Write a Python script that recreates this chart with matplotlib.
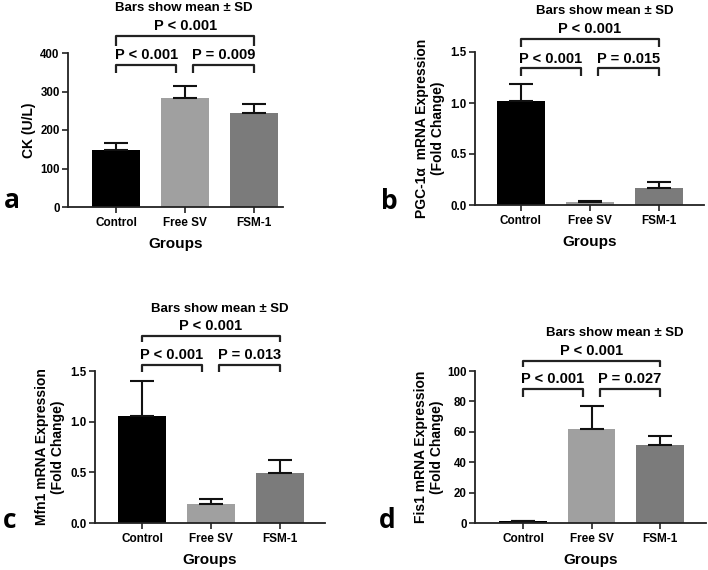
import matplotlib
matplotlib.use('Agg')
import matplotlib.pyplot as plt

plt.rcParams['font.family'] = ['Liberation Sans', 'DejaVu Sans']
plt.rcParams['font.weight'] = 'bold'

groups = ['Control', 'Free SV', 'FSM-1']
colors = ['#000000', '#a0a0a0', '#7b7b7b']

ck_mean = [148, 284, 245]
ck_sd = [19, 31, 23]
pgc_mean = [1.02, 0.03, 0.17]
pgc_sd = [0.17, 0.005, 0.06]
mfn_mean = [1.06, 0.19, 0.49]
mfn_sd = [0.34, 0.05, 0.13]
fis_mean = [1.5, 62, 51]
fis_sd = [0.0, 15, 6]

# p values: (control vs free, free vs fsm, control vs fsm)
ck_p = ['P < 0.001', 'P = 0.009', 'P < 0.001']
pgc_p = ['P < 0.001', 'P = 0.015', 'P < 0.001']
mfn_p = ['P < 0.001', 'P = 0.013', 'P < 0.001']
fis_p = ['P < 0.001', 'P = 0.027', 'P < 0.001']

W, H = 708, 570
fig = plt.figure(figsize=(W / 100, H / 100), dpi=100)


def make_ax(l, r, t, b):
    return fig.add_axes([l / W, (H - b) / H, (r - l) / W, (b - t) / H])


def panel(ax, mean, sd, pvals, ylim, yticks, xlim, ylabel, lpad, brk, title_pos, letter, letter_xy):
    x = list(range(len(groups)))
    ax.bar(x, mean, width=0.69, color=colors, edgecolor='none', zorder=2)
    ax.errorbar(x, mean, yerr=[[0] * 3, sd], fmt='none', ecolor='#111111',
                elinewidth=1.5, capsize=8.5, capthick=1.5, zorder=3)
    ax.set_xlim(*xlim)
    ax.set_ylim(*ylim)
    ax.set_yticks(yticks)
    ax.set_xticks(x)
    ax.set_xticklabels(groups, fontsize=8.5, fontweight='bold')
    for lab in ax.get_yticklabels():
        lab.set_fontsize(8.3)
        lab.set_fontweight('bold')
    for s in ['top', 'right']:
        ax.spines[s].set_visible(False)
    for s in ['left', 'bottom']:
        ax.spines[s].set_linewidth(1.3)
        ax.spines[s].set_color('#222222')
        ax.spines[s].set_zorder(4)
    ax.tick_params(axis='both', direction='out', length=4, width=1.2, color='#222222', pad=2)
    ax.tick_params(axis='x', pad=3)
    ax.set_xlabel('Groups', fontsize=11, fontweight='bold', labelpad=6)
    ax.set_ylabel(ylabel, fontsize=10, fontweight='bold', labelpad=lpad, linespacing=1.2)

    top_y, top_leg, low_y, low_leg = brk
    kw = dict(color='#222222', lw=1.6, clip_on=False, solid_capstyle='butt')
    # lower brackets
    for (x0, x1), p in [((0, 0.87), pvals[0]), ((1.12, 2), pvals[1])]:
        ax.plot([x0, x0, x1, x1], [low_leg, low_y, low_y, low_leg], **kw)
        ax.annotate(p, ((x0 + x1) / 2, low_y), xytext=(0, 2), textcoords='offset points',
                    ha='center', va='bottom', fontsize=10.5, fontweight='bold', annotation_clip=False)
    ax.plot([0, 0, 2, 2], [top_leg, top_y, top_y, top_leg], **kw)
    ax.annotate(pvals[2], (1, top_y), xytext=(0, 2), textcoords='offset points',
                ha='center', va='bottom', fontsize=10.5, fontweight='bold', annotation_clip=False)

    ax.text(title_pos[0], title_pos[1], 'Bars show mean ± SD', transform=ax.get_xaxis_transform(),
            ha='center', va='center', fontsize=9.5, fontweight='bold')
    fig.text(letter_xy[0] / W, (H - letter_xy[1]) / H, letter, fontsize=19, fontweight='bold',
             family=['Open Sans', 'DejaVu Sans'], ha='left', va='baseline')


ax_a = make_ax(68, 283, 53, 207)
panel(ax_a, ck_mean, ck_sd, ck_p, (0, 400), [0, 100, 200, 300, 400], (-0.70, 2.42),
      'CK (U/L)', 3, (444, 418, 369, 348), (0.98, 1.29), 'a', (4, 208))

ax_b = make_ax(475, 704, 52, 205)
panel(ax_b, pgc_mean, pgc_sd, pgc_p, (0, 1.5), [0.0, 0.5, 1.0, 1.5], (-0.66, 2.65),
      'PGC-1α  mRNA Expression\n(Fold Change)', 4, (1.63, 1.55, 1.34, 1.26), (1.22, 1.27), 'b', (381, 209))

ax_c = make_ax(95, 325, 371, 523)
panel(ax_c, mfn_mean, mfn_sd, mfn_p, (0, 1.5), [0.0, 0.5, 1.0, 1.5], (-0.68, 2.65),
      'Mfn1 mRNA Expression\n(Fold Change)', 4, (1.85, 1.79, 1.56, 1.49), (1.13, 1.41), 'c', (3, 528))

ax_d = make_ax(475, 706, 371, 523)
panel(ax_d, fis_mean, fis_sd, fis_p, (0, 100), [0, 20, 40, 60, 80, 100], (-0.70, 2.67),
      'Fis1 mRNA Expression\n(Fold Change)', 2, (106.6, 102.6, 88.2, 83), (1.34, 1.25), 'd', (379, 528))

fig.savefig('out.png', dpi=100)
